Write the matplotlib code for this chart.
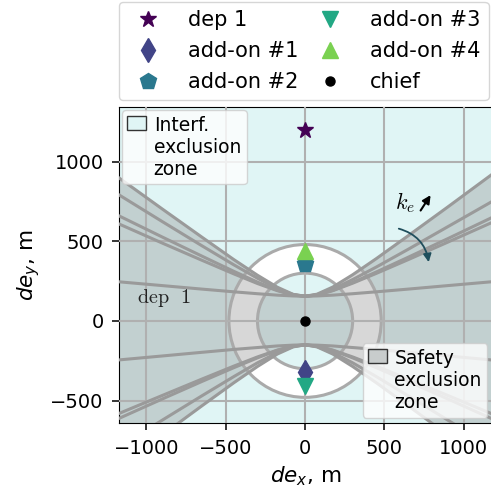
import numpy as np
import matplotlib
matplotlib.use("Agg")
import matplotlib.pyplot as plt
from matplotlib.patches import Wedge, Circle, Patch

plt.rcParams["font.size"] = 14
plt.rcParams["mathtext.fontset"] = "dejavusans"

# spacecraft positions in the chief's frame, m
names = ["dep 1", "add-on #1", "add-on #2", "add-on #3", "add-on #4"]
pos_x = [0, 0, 0, 0, 0]
pos_y = [1200, -320, 360, -410, 440]
markers = ["*", "d", "p", "v", "^"]
colors = ["#440154", "#414487", "#2a788e", "#22a884", "#7ad151"]

# interference-free annulus, m
r_inner = 300
r_outer = 480

# safety cone boundary curves sampled along de_x
cone_x = [-1175, -900, -650, -450, -300, -175, -75, 0, 75, 175, 300, 450, 650, 900, 1175]
upper_curves = [
    [246, 222, 200, 183, 171, 162, 157, 155, 157, 162, 171, 183, 200, 222, 246],
    [610, 489, 381, 296, 235, 190, 163, 155, 163, 190, 237, 299, 385, 495, 617],
    [661, 527, 407, 312, 244, 193, 163, 155, 163, 192, 242, 308, 400, 517, 648],
    [793, 624, 472, 353, 268, 203, 166, 155, 165, 200, 260, 339, 450, 592, 748],
    [900, 703, 526, 386, 287, 212, 167, 155, 168, 213, 290, 392, 535, 716, 918],
]
lower_curves = [
    [-245, -220, -197, -179, -167, -157, -152, -150, -152, -157, -167, -179, -197, -220, -245],
    [-582, -468, -365, -284, -226, -183, -157, -150, -157, -183, -226, -284, -365, -468, -582],
    [-613, -490, -380, -294, -232, -185, -158, -150, -158, -185, -232, -294, -380, -490, -613],
    [-793, -623, -470, -350, -263, -199, -161, -150, -161, -199, -263, -350, -470, -623, -793],
    [-919, -716, -533, -389, -286, -208, -163, -150, -163, -208, -286, -389, -533, -716, -919],
]

interf_color = "#e0f5f5"
line_gray = "#9a9a9a"


def top_align(leg):
    # put the patch next to the first line of a multi-line label
    for col in leg._legend_handle_box.get_children():
        for row in col.get_children():
            row.align = "top"


fig = plt.figure(figsize=(4.91, 4.94), dpi=100)
ax = fig.add_axes([0.2424, 0.1431, 0.7617, 0.6397])
ax.set_facecolor(interf_color)

# annulus where interference is allowed
ax.add_patch(Wedge((0, 0), r_outer, 0, 360, width=r_outer - r_inner,
                   facecolor="white", edgecolor="none", zorder=1))

# safety exclusion cone
upper_env = np.max(np.array(upper_curves), axis=0)
lower_env = np.min(np.array(lower_curves), axis=0)
ax.fill_between(cone_x, lower_env, upper_env, color="grey", alpha=0.31,
                linewidth=0, zorder=1.5)

for r in (r_inner, r_outer):
    ax.add_patch(Circle((0, 0), r, fill=False, edgecolor="#aaaaaa", lw=2.2, zorder=2))

for yu, yl in zip(upper_curves, lower_curves):
    ax.plot(cone_x, yu, color=line_gray, lw=2.2, zorder=3)
    ax.plot(cone_x, yl, color=line_gray, lw=2.2, zorder=3)

handles = []
for n, x, y, m, c in zip(names, pos_x, pos_y, markers, colors):
    h, = ax.plot(x, y, linestyle="none", marker=m, color=c, markersize=12,
                 zorder=5, label=n)
    handles.append(h)
h, = ax.plot(0, 0, linestyle="none", marker="o", color="black", markersize=6.5,
             zorder=5, label="chief")
handles.append(h)

ax.text(-1060, 145, r"$\mathrm{dep\ \ 1}$", fontsize=14.5, family="serif",
        math_fontfamily="cm", va="center", ha="left", color="#222222", zorder=6)
ax.text(628, 741, r"$k_e$", fontsize=16, math_fontfamily="cm",
        ha="center", va="center", zorder=6)
ax.annotate("", xy=(801, 805), xytext=(719, 679),
            arrowprops=dict(arrowstyle="-|>", color="black", lw=1.5,
                            mutation_scale=12), zorder=6)
ax.annotate("", xy=(782, 352), xytext=(574, 584),
            arrowprops=dict(arrowstyle="-|>", color="#1f4e5c", lw=1.3,
                            mutation_scale=12,
                            connectionstyle="arc3,rad=-0.35"), zorder=6)

ax.set_xlim(-1173, 1185)
ax.set_ylim(-643, 1342)
ax.set_xticks([-1000, -500, 0, 500, 1000])
ax.set_yticks([-500, 0, 500, 1000])
ax.tick_params(length=5, width=1.1, pad=6, labelsize=14)
ax.set_axisbelow(False)
ax.grid(True, color="#b0b0b0", lw=1.5, zorder=2.5)
ax.set_xlabel(r"$de_x$, m", fontsize=15.5, labelpad=5)
ax.set_ylabel(r"$de_y$, m", fontsize=15.5, labelpad=6)

leg_i = ax.legend(handles=[Patch(facecolor=interf_color, edgecolor="#333333",
                                 label="Interf.\nexclusion\nzone")],
                  loc="upper left", handlelength=1.0, handleheight=0.8,
                  handletextpad=0.4, borderpad=0.3, borderaxespad=0.15,
                  fontsize=13.5)
top_align(leg_i)
ax.add_artist(leg_i)
leg_s = ax.legend(handles=[Patch(facecolor="#c8cccc", edgecolor="#333333",
                                 label="Safety\nexclusion\nzone")],
                  loc="lower right", handlelength=1.0, handleheight=0.8,
                  handletextpad=0.4, borderpad=0.3, borderaxespad=0.3,
                  fontsize=13.5)
top_align(leg_s)

fig.legend(handles=handles, loc="upper left", bbox_to_anchor=(0.2424, 0.996),
           ncol=2, fontsize=15, handletextpad=0.92, columnspacing=0.5,
           labelspacing=0.52, borderpad=0.4, borderaxespad=0.0)

fig.savefig("out.png", dpi=100)
